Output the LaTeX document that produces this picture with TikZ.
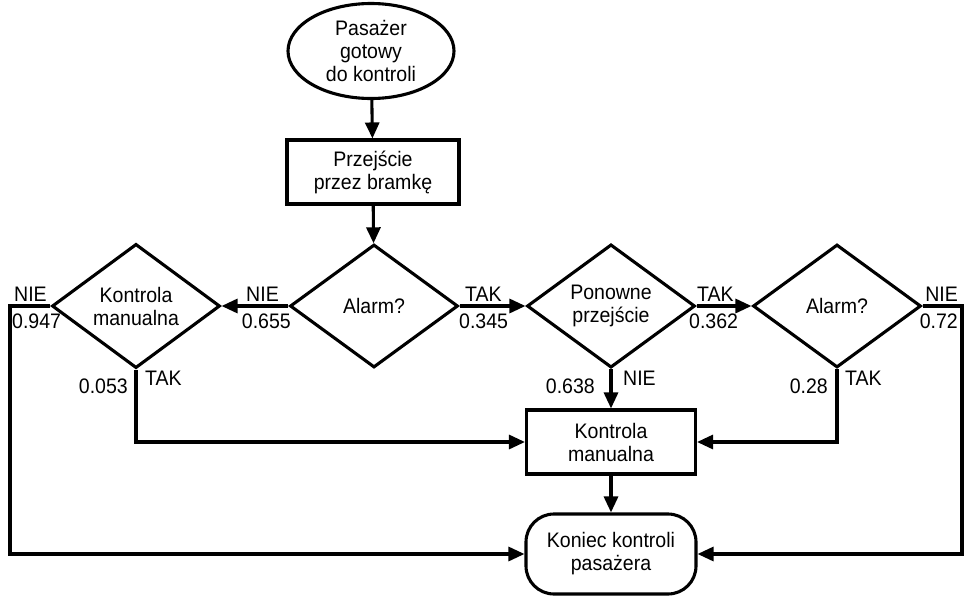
\documentclass[tikz,border=0pt]{standalone}
\usepackage{fontspec}
\setmainfont[FakeStretch=0.93]{Liberation Sans}
\usetikzlibrary{shapes.geometric,arrows.meta}
\begin{document}
\begin{tikzpicture}[x=1pt,y=-1pt,
  every node/.style={font=\fontsize{21}{23}\selectfont, align=center},
  arr/.style={line width=3.1pt,-{Triangle[length=16pt,width=14pt]}},
  boxnode/.style={draw,line width=3.1pt,rectangle,minimum width=172pt,minimum height=64pt,inner sep=0pt},
  decnode/.style={draw,line width=3.1pt,diamond,minimum width=168pt,minimum height=123pt,inner sep=0pt},
  lbl/.style={inner sep=0pt}]
\useasboundingbox (0,0) rectangle (966,597);
\node[draw,line width=3.1pt,ellipse,minimum width=166pt,minimum height=95pt,inner sep=0pt] (start) at (371,51) {Pasażer\\gotowy\\do kontroli};
\node[boxnode] (gate) at (373,172) {Przejście\\przez bramkę};
\node[decnode] (a1) at (374,306) {Alarm?};
\node[decnode] (km) at (136,306) {Kontrola\\manualna};
\node[decnode] (pp) at (611,306) {Ponowne\\przejście};
\node[decnode] (a2) at (837,306) {Alarm?};
\node[boxnode,minimum width=169pt,minimum height=64pt] (kmb) at (611,442) {Kontrola\\manualna};
\node[draw,line width=3.1pt,rectangle,rounded corners=28pt,minimum width=170pt,minimum height=80pt,inner sep=0pt] (end) at (611,554) {Koniec kontroli\\pasażera};
\coordinate (cL) at (10,306);
\coordinate (cR) at (962,306);
\draw[arr] (start) -- (gate);
\draw[arr] (gate) -- (a1);
\draw[arr] (a1.west) -- (km.east);
\draw[arr] (a1.east) -- (pp.west);
\draw[arr] (pp.east) -- (a2.west);
\draw[arr] (pp.south) -- (kmb.north);
\draw[arr] (km.south) |- (kmb.west);
\draw[arr] (a2.south) |- (kmb.east);
\draw[arr] (kmb) -- (end);
\draw[arr] (km.west) -- (cL) |- (end.west);
\draw[arr] (a2.east) -- (cR) |- (end.east);
% labels
\node[lbl,anchor=base west] (l1) at (14,301) {NIE};
\node[lbl,anchor=base west] (l2) at (12,328) {0.947};
\node[lbl,anchor=base east] (l3) at (279,301) {NIE};
\node[lbl,anchor=base east] (l4) at (291,328) {0.655};
\node[lbl,anchor=base west] (l5) at (465,301) {TAK};
\node[lbl,anchor=base west] (l6) at (459,328) {0.345};
\node[lbl,anchor=base west] (l7) at (697,301) {TAK};
\node[lbl,anchor=base west] (l8) at (689,328) {0.362};
\node[lbl,anchor=base east] (l9) at (958,301) {NIE};
\node[lbl,anchor=base east] (l10) at (958,328) {0.72};
\node[lbl,anchor=base east] (l11) at (128,393) {0.053};
\node[lbl,anchor=base west] (l12) at (145,385) {TAK};
\node[lbl,anchor=base east] (l13) at (595,393) {0.638};
\node[lbl,anchor=base west] (l14) at (623,385) {NIE};
\node[lbl,anchor=base east] (l15) at (828,393) {0.28};
\node[lbl,anchor=base west] (l16) at (845,385) {TAK};
\end{tikzpicture}
\end{document}
